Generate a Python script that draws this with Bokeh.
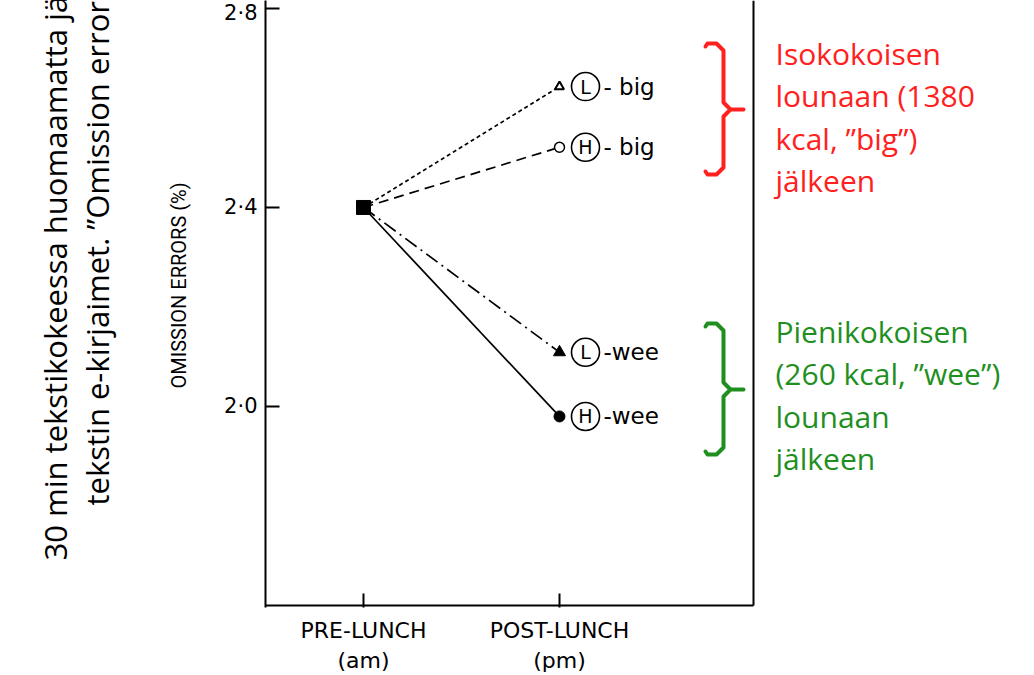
import numpy as np
from bokeh.plotting import figure
from bokeh.models import Range1d, FixedTicker, ColumnDataSource, Title
from bokeh.core.properties import value
from bokeh.embed import file_html
from bokeh.resources import INLINE

# ---------------- data ----------------
periods = ["PRE-LUNCH\n(am)", "POST-LUNCH\n(pm)"]
period_x = [0, 1]
y_ticks = [2.0, 2.4, 2.8]
y_tick_labels = ["2·0", "2·4", "2·8"]
series_letter = ["L", "H", "L", "H"]
series_meal = ["- big", "- big", "-wee", "-wee"]
pre_lunch = [2.40, 2.40, 2.40, 2.40]
post_lunch = [2.643, 2.521, 2.109, 1.980]
y_label = "OMISSION ERRORS (%)"
big_note = ["Isokokoisen", "lounaan (1380", "kcal, ”big”)", "jälkeen"]
wee_note = ["Pienikokoisen", "(260 kcal, ”wee”)", "lounaan", "jälkeen"]
side_note = ["30 min tekstikokeessa huomaamatta jääneet",
             "tekstin e-kirjaimet. ”Omission errors”"]

# ---------------- styles ----------------
dashes = ["4 3", "10 6", "14 5 2 5", "solid"]
end_marker = ["triangle", "circle", "triangle", "circle"]
end_fill = ["white", "white", "black", "black"]
end_size = [9, 10, 12, 11]
end_lw = [2.0, 1.5, 1.0, 1.0]
RED = "#FF2020"
GREEN = "#1F8F1F"

W, H = 1034, 675
BL, BB = 265, 68                  # borders (frame left / bottom)
XSC = 196.0                        # px per x unit
XS = -0.5
XE = XS + (W - BL) / XSC
YS, YE = 1.596, 2.816
YSC = (H - BB) / (YE - YS)


def dx(px):   # picture pixel -> data (annotation placement only)
    return XS + (px - BL) / XSC


def dy(py):
    return YS + (H - BB - py) / YSC


p = figure(width=W, height=H, x_range=Range1d(XS, XE), y_range=Range1d(YS, YE),
           output_backend="svg", toolbar_location=None,
           min_border_left=BL, min_border_bottom=BB, min_border_top=0, min_border_right=0)
p.outline_line_color = None
p.xgrid.visible = False
p.ygrid.visible = False
p.background_fill_color = "white"
p.border_fill_color = "white"

# x axis
xa = p.xaxis[0]
xa.ticker = FixedTicker(ticks=period_x)
xa.major_label_overrides = {x: l for x, l in zip(period_x, periods)}
xa.axis_line_color = None
xa.major_tick_in = 14
xa.major_tick_out = 0
xa.major_tick_line_width = 2
xa.major_tick_line_color = "black"
xa.minor_tick_line_color = None
xa.major_label_text_font = "DejaVu Sans"
xa.major_label_text_font_size = "22px"
xa.major_label_text_color = "black"
xa.major_label_standoff = 10

# y axis
ya = p.yaxis[0]
ya.ticker = FixedTicker(ticks=y_ticks)
ya.major_label_overrides = {t: l for t, l in zip(y_ticks, y_tick_labels)}
ya.axis_line_width = 2
ya.axis_line_color = "black"
ya.major_tick_in = 14
ya.major_tick_out = 0
ya.major_tick_line_width = 2
ya.major_tick_line_color = "black"
ya.minor_tick_line_color = None
ya.major_label_text_font = "DejaVu Sans"
ya.major_label_text_font_size = "21px"
ya.major_label_text_color = "black"
ya.major_label_standoff = 8

# y-axis title and rotated Finnish caption (stacked outward from the axis)
p.add_layout(Title(text=y_label, align="left", offset=219, standoff=62,
                   text_font="Roboto", text_font_size="20px",
                   text_font_style="normal", text_color="black"), "left")
for txt, sto, off in [(side_note[1], 32, 102), (side_note[0], -36, 47)]:
    p.add_layout(Title(text=txt, align="left", offset=off, standoff=sto,
                       text_font="Open Sans", text_font_size="31px",
                       text_font_style="normal", text_color="black"), "left")

# frame lines (bottom + right)
FR = dx(753)
YB = dy(605)
p.line([XS, FR], [YB, YB], line_color="black", line_width=2)
p.line([FR, FR], [YB, YE], line_color="black", line_width=2)

# series lines
for i in range(len(post_lunch)):
    p.line([period_x[0], period_x[1]], [pre_lunch[i], post_lunch[i]],
           line_color="black", line_width=1.7, line_dash=dashes[i])

p.scatter([period_x[0]], [pre_lunch[0]], marker="square", size=14,
          fill_color="black", line_color="black")

src = ColumnDataSource(dict(x=[period_x[1]] * 4, y=post_lunch, m=end_marker,
                            f=end_fill, s=end_size, lw=end_lw,
                            letter=series_letter, meal=series_meal))
p.scatter("x", "y", source=src, marker="m", size="s", fill_color="f",
          line_color="black", line_width="lw")

# circled letters + labels
CX = period_x[1] + 26 / XSC
TX = period_x[1] + 44 / XSC
p.scatter([CX] * 4, post_lunch, marker="circle", size=28, fill_color=None,
          line_color="black", line_width=1.6)
p.text([CX] * 4, post_lunch, text=series_letter, text_align="center",
       text_baseline="middle", text_font=value("DejaVu Sans"),
       text_font_size="19px", text_color="black")
p.text([TX] * 4, post_lunch, text=series_meal, text_align="left",
       text_baseline="middle", text_font=value("DejaVu Sans"),
       text_font_size="23px", text_color="black")


# braces
def brace(xl, xm, xt, yt, yb, ym):
    rx, ry = 7 / XSC, 7 / YSC
    xs = [xl, xl + 2 / XSC, xm - rx, xm, xm, xm + rx, xt, xm + rx, xm, xm, xm - rx, xl + 2 / XSC, xl]
    ys = [yt - 3 / YSC, yt, yt, yt - ry, ym + ry, ym, ym, ym, ym - ry, yb + ry, yb, yb, yb + 3 / YSC]
    return xs, ys


bx1, by1 = brace(dx(705), dx(723), dx(743), dy(43), dy(174), dy(109))
bx2, by2 = brace(dx(705), dx(723), dx(743), dy(323), dy(454), dy(389))
p.multi_line([bx1, bx2], [by1, by2], line_color=[RED, GREEN], line_width=4,
             line_join="round", line_cap="round")

# side notes (red / green)
NX = dx(775)
STEP = 42.3 / YSC
p.text([NX] * 4, [dy(53) - i * STEP for i in range(4)], text=big_note,
       text_align="left", text_baseline="alphabetic", text_font=value("Open Sans"),
       text_font_size="30px", text_color=RED)
p.text([NX] * 4, [dy(331) - i * STEP for i in range(4)], text=wee_note,
       text_align="left", text_baseline="alphabetic", text_font=value("Open Sans"),
       text_font_size="30px", text_color=GREEN)

open("out.html", "w").write(file_html(p, INLINE))
